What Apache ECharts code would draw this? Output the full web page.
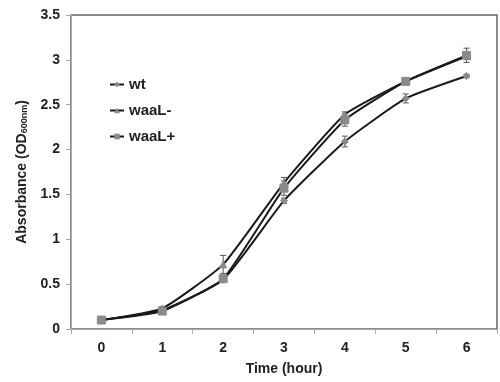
<!DOCTYPE html>
<html><head><meta charset="utf-8">
<script src="https://cdn.jsdelivr.net/npm/echarts@6/dist/echarts.min.js"></script>
<style>html,body{margin:0;padding:0;background:#fff}#c{width:500px;height:382px}</style>
</head><body><div id="c"></div>
<script>
const categories = ['0','1','2','3','4','5','6'];
const wt = [0.10, 0.21, 0.55, 1.43, 2.09, 2.57, 2.82];
const waaLminus = [0.10, 0.23, 0.72, 1.63, 2.39, 2.76, 3.04];
const waaLplus = [0.10, 0.20, 0.56, 1.57, 2.33, 2.76, 3.05];
const wtErr = [0.01, 0.02, 0.02, 0.03, 0.06, 0.05, 0.02];
const waaLminusErr = [0.01, 0.02, 0.10, 0.06, 0.03, 0.03, 0.03];
const waaLplusErr = [0.01, 0.02, 0.03, 0.08, 0.07, 0.03, 0.08];

const chart = echarts.init(document.getElementById('c'));
const font = 'Liberation Sans, Arial, sans-serif';

function errSeries(vals, errs) {
  return {
    type: 'custom', silent: true, z: 1,
    data: vals.map((v, i) => [i, v - errs[i], v + errs[i]]),
    renderItem: function (params, api) {
      const lo = api.coord([api.value(0), api.value(1)]);
      const hi = api.coord([api.value(0), api.value(2)]);
      const w = 3;
      const st = {stroke: '#555', lineWidth: 1};
      return {type: 'group', children: [
        {type: 'line', shape: {x1: lo[0], y1: lo[1], x2: hi[0], y2: hi[1]}, style: st},
        {type: 'line', shape: {x1: lo[0]-w, y1: lo[1], x2: lo[0]+w, y2: lo[1]}, style: st},
        {type: 'line', shape: {x1: hi[0]-w, y1: hi[1], x2: hi[0]+w, y2: hi[1]}, style: st}
      ]};
    }
  };
}
function lineSeries(name, vals, symbol, size) {
  return {
    name: name, type: 'line', data: vals, smooth: 0.15,
    symbol: symbol, symbolSize: size, z: 3,
    lineStyle: {color: '#1a1a1a', width: 2},
    itemStyle: {color: '#8a8a8a', borderColor: '#8a8a8a'}
  };
}
chart.setOption({
  animation: false,
  grid: {left: 71, right: 3, top: 15, bottom: 53, show: true, borderColor: '#666', borderWidth: 1.5},
  legend: {
    orient: 'vertical', left: 104, top: 72, itemGap: 11, itemWidth: 14, itemHeight: 7,
    textStyle: {fontFamily: font, fontWeight: 'bold', fontSize: 15, color: '#222'},
    data: ['wt', 'waaL-', 'waaL+']
  },
  xAxis: {
    type: 'category', data: categories, boundaryGap: true,
    name: 'Time (hour)', nameLocation: 'middle', nameGap: 33,
    nameTextStyle: {fontFamily: font, fontWeight: 'bold', fontSize: 14, color: '#222'},
    axisLine: {lineStyle: {color: '#aaa'}},
    axisTick: {show: true, alignWithLabel: false, length: 5, lineStyle: {color: '#aaa'}},
    axisLabel: {fontFamily: font, fontWeight: 'bold', fontSize: 14, color: '#222', margin: 12},
    splitLine: {show: false}
  },
  yAxis: {
    type: 'value', min: 0, max: 3.5, interval: 0.5,
    name: '{a|Absorbance (OD}{s|600nm}{a|)}', nameLocation: 'middle', nameGap: 42,
    nameTextStyle: {rich: {
      a: {fontFamily: font, fontWeight: 'bold', fontSize: 14, color: '#222'},
      s: {fontFamily: font, fontWeight: 'bold', fontSize: 9, color: '#222', verticalAlign: 'bottom', padding: [5,0,0,0]}
    }},
    axisLine: {show: true, lineStyle: {color: '#b5aaa0'}},
    axisTick: {show: true, length: 5, lineStyle: {color: '#aaa'}},
    axisLabel: {fontFamily: font, fontWeight: 'bold', fontSize: 14, color: '#222', margin: 11,
      formatter: v => String(v)},
    splitLine: {show: false}
  },
  series: [
    errSeries(wt, wtErr), errSeries(waaLminus, waaLminusErr), errSeries(waaLplus, waaLplusErr),
    lineSeries('wt', wt, 'diamond', 7),
    lineSeries('waaL-', waaLminus, 'triangle', 7),
    lineSeries('waaL+', waaLplus, 'rect', 8)
  ]
});
</script></body></html>
